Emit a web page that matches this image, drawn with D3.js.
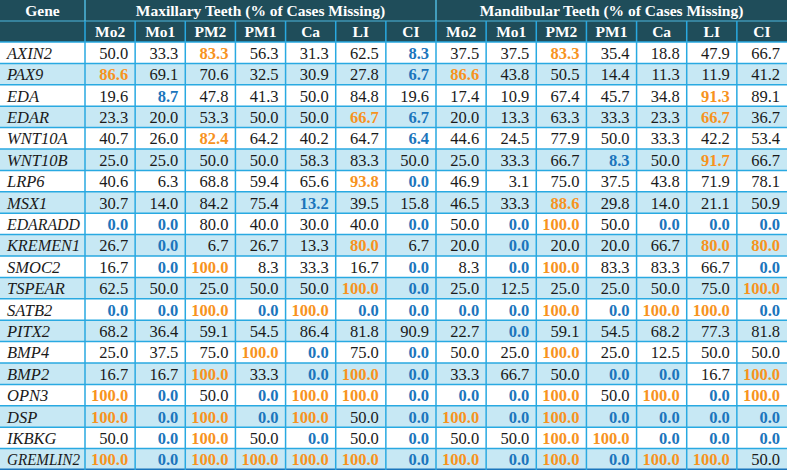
<!DOCTYPE html>
<html>
<head>
<meta charset="utf-8">
<script src="https://cdn.jsdelivr.net/npm/d3@7"></script>
<style>
  html, body { margin: 0; padding: 0; background: #fff; }
  svg { display: block; }
</style>
</head>
<body>
<script>
const genes = ["AXIN2", "PAX9", "EDA", "EDAR", "WNT10A", "WNT10B", "LRP6", "MSX1",
  "EDARADD", "KREMEN1", "SMOC2", "TSPEAR", "SATB2", "PITX2", "BMP4", "BMP2",
  "OPN3", "DSP", "IKBKG", "GREMLIN2"];

const teeth = ["Mo2", "Mo1", "PM2", "PM1", "Ca", "LI", "CI"];

const groups = ["Maxillary Teeth (% of Cases Missing)", "Mandibular Teeth (% of Cases Missing)"];

const maxillary = [
  [50.0, 33.3, 83.3, 56.3, 31.3, 62.5, 8.3],
  [86.6, 69.1, 70.6, 32.5, 30.9, 27.8, 6.7],
  [19.6, 8.7, 47.8, 41.3, 50.0, 84.8, 19.6],
  [23.3, 20.0, 53.3, 50.0, 50.0, 66.7, 6.7],
  [40.7, 26.0, 82.4, 64.2, 40.2, 64.7, 6.4],
  [25.0, 25.0, 50.0, 50.0, 58.3, 83.3, 50.0],
  [40.6, 6.3, 68.8, 59.4, 65.6, 93.8, 0.0],
  [30.7, 14.0, 84.2, 75.4, 13.2, 39.5, 15.8],
  [0.0, 0.0, 80.0, 40.0, 30.0, 40.0, 0.0],
  [26.7, 0.0, 6.7, 26.7, 13.3, 80.0, 6.7],
  [16.7, 0.0, 100.0, 8.3, 33.3, 16.7, 0.0],
  [62.5, 50.0, 25.0, 50.0, 50.0, 100.0, 0.0],
  [0.0, 0.0, 100.0, 0.0, 100.0, 0.0, 0.0],
  [68.2, 36.4, 59.1, 54.5, 86.4, 81.8, 90.9],
  [25.0, 37.5, 75.0, 100.0, 0.0, 75.0, 0.0],
  [16.7, 16.7, 100.0, 33.3, 0.0, 100.0, 0.0],
  [100.0, 0.0, 50.0, 0.0, 100.0, 100.0, 0.0],
  [100.0, 0.0, 100.0, 0.0, 100.0, 50.0, 0.0],
  [50.0, 0.0, 100.0, 50.0, 0.0, 50.0, 0.0],
  [100.0, 0.0, 100.0, 100.0, 100.0, 100.0, 0.0]
];

const mandibular = [
  [37.5, 37.5, 83.3, 35.4, 18.8, 47.9, 66.7],
  [86.6, 43.8, 50.5, 14.4, 11.3, 11.9, 41.2],
  [17.4, 10.9, 67.4, 45.7, 34.8, 91.3, 89.1],
  [20.0, 13.3, 63.3, 33.3, 23.3, 66.7, 36.7],
  [44.6, 24.5, 77.9, 50.0, 33.3, 42.2, 53.4],
  [25.0, 33.3, 66.7, 8.3, 50.0, 91.7, 66.7],
  [46.9, 3.1, 75.0, 37.5, 43.8, 71.9, 78.1],
  [46.5, 33.3, 88.6, 29.8, 14.0, 21.1, 50.9],
  [50.0, 0.0, 100.0, 50.0, 0.0, 0.0, 0.0],
  [20.0, 0.0, 20.0, 20.0, 66.7, 80.0, 80.0],
  [8.3, 0.0, 100.0, 83.3, 83.3, 66.7, 0.0],
  [25.0, 12.5, 25.0, 25.0, 50.0, 75.0, 100.0],
  [0.0, 0.0, 100.0, 0.0, 100.0, 100.0, 0.0],
  [22.7, 0.0, 59.1, 54.5, 68.2, 77.3, 81.8],
  [50.0, 25.0, 100.0, 25.0, 12.5, 50.0, 50.0],
  [33.3, 66.7, 50.0, 0.0, 0.0, 16.7, 100.0],
  [0.0, 0.0, 100.0, 50.0, 100.0, 0.0, 100.0],
  [100.0, 0.0, 100.0, 0.0, 0.0, 0.0, 0.0],
  [50.0, 50.0, 100.0, 100.0, 0.0, 0.0, 0.0],
  [100.0, 0.0, 100.0, 0.0, 100.0, 100.0, 50.0]
];

// H = highest (orange), L = lowest (blue), - = plain
const maxillaryMarks = [
  "--H---L", "H-----L", "-L-----", "-----HL", "--H---L", "-------", "-----HL",
  "----L--", "LL----L", "-L---H-", "-LH---L", "-----HL", "LLHLHLL", "-------",
  "---HL-L", "--H-LHL", "HL-LHHL", "HLHLH-L", "-LH-L-L", "HLHHHHL"
];
const mandibularMarks = [
  "--H----", "H------", "-----H-", "-----H-", "-------", "---L-H-", "-------",
  "--H----", "-LH-LLL", "-L---HH", "-LH---L", "------H", "LLHLHHL", "-L-----",
  "--H----", "---LL-H", "LLH-HLH", "HLHLLLL", "--HHLLL", "HLHLHH-"
];

// cells left white inside a shaded row
const plainCells = [{gene: "BMP2", group: 1, tooth: "LI"}];

const width = 787, height = 470;
const geneW = 85, headH = 21;
const serif = "'Liberation Serif', 'Times New Roman', Tinos, Times, serif";

const cols = [];
groups.forEach((g, gi) => teeth.forEach(t => cols.push(gi + ":" + t)));

const x = d3.scaleBand().domain(cols).range([geneW, width]);
const y = d3.scaleBand().domain(genes).range([headH * 2, height]);
const xGroup = d3.scaleBand().domain(groups).range([geneW, width]);

const markColor = {H: "#f7931e", L: "#1b75bc", "-": "#1a1a1a"};

const svg = d3.select("body").append("svg")
  .attr("width", width)
  .attr("height", height)
  .attr("font-family", serif)
  .style("font-family", serif);

// header background
svg.append("rect")
  .attr("x", 0).attr("y", 0)
  .attr("width", width).attr("height", headH * 2)
  .attr("fill", "#1f4d5a");

// row backgrounds
svg.append("g").selectAll("rect")
  .data(genes)
  .join("rect")
  .attr("x", 0)
  .attr("y", d => y(d))
  .attr("width", width)
  .attr("height", y.bandwidth())
  .attr("fill", (d, i) => i % 2 ? "#c7e8f4" : "#ffffff");

svg.append("g").selectAll("rect")
  .data(plainCells)
  .join("rect")
  .attr("x", d => x(d.group + ":" + d.tooth))
  .attr("y", d => y(d.gene))
  .attr("width", x.bandwidth())
  .attr("height", y.bandwidth())
  .attr("fill", "#ffffff");

// cells
const cells = [];
genes.forEach((g, i) => {
  teeth.forEach((t, j) => {
    cells.push({gene: g, col: "0:" + t, v: maxillary[i][j], m: maxillaryMarks[i][j]});
    cells.push({gene: g, col: "1:" + t, v: mandibular[i][j], m: mandibularMarks[i][j]});
  });
});

svg.append("g").selectAll("text")
  .data(cells)
  .join("text")
  .attr("x", d => x(d.col) + x.bandwidth() - 7)
  .attr("y", d => y(d.gene) + y.bandwidth() / 2 + 6)
  .attr("text-anchor", "end")
  .attr("font-size", 16.5)
  .attr("font-weight", d => d.m === "-" ? "normal" : "bold")
  .attr("fill", d => markColor[d.m])
  .text(d => d3.format(".1f")(d.v));

// gene names, long ones squeezed to fit the column
svg.append("g").selectAll("text")
  .data(genes)
  .join("text")
  .attr("x", 7)
  .attr("y", d => y(d) + y.bandwidth() / 2 + 6)
  .attr("font-size", 16.5)
  .attr("font-style", "italic")
  .attr("fill", "#1a1a1a")
  .text(d => d)
  .each(function () {
    if (this.getComputedTextLength() > 73) {
      d3.select(this).attr("textLength", 73).attr("lengthAdjust", "spacingAndGlyphs");
    }
  });

// header text
svg.append("text")
  .attr("x", geneW / 2)
  .attr("y", headH / 2 + 5.5)
  .attr("text-anchor", "middle")
  .attr("font-size", 15.5)
  .attr("font-weight", "bold")
  .attr("fill", "#fff")
  .text("Gene");

svg.append("g").selectAll("text")
  .data(groups)
  .join("text")
  .attr("x", d => xGroup(d) + xGroup.bandwidth() / 2)
  .attr("y", headH / 2 + 5.5)
  .attr("text-anchor", "middle")
  .attr("font-size", 15.5)
  .attr("font-weight", "bold")
  .attr("fill", "#fff")
  .text(d => d);

svg.append("g").selectAll("text")
  .data(cols)
  .join("text")
  .attr("x", d => x(d) + x.bandwidth() / 2)
  .attr("y", headH * 1.5 + 5.5)
  .attr("text-anchor", "middle")
  .attr("font-size", 15.5)
  .attr("font-weight", "bold")
  .attr("fill", "#fff")
  .text(d => d.split(":")[1]);

// grid
const grid = svg.append("g").attr("fill", "none");

grid.selectAll("line.h")
  .data(genes.slice(1))
  .join("line")
  .attr("class", "h")
  .attr("x1", 0).attr("x2", width)
  .attr("y1", d => y(d)).attr("y2", d => y(d))
  .attr("stroke", "#29a9e1")
  .attr("stroke-width", 1.5);

grid.append("line")
  .attr("x1", 0).attr("x2", width)
  .attr("y1", headH * 2).attr("y2", headH * 2)
  .attr("stroke", "#29a9e1")
  .attr("stroke-width", 1.5);

grid.append("line")
  .attr("x1", 0).attr("x2", width)
  .attr("y1", headH).attr("y2", headH)
  .attr("stroke", "#4fb8de")
  .attr("stroke-width", 1.2);

grid.append("line")
  .attr("x1", 0).attr("x2", width)
  .attr("y1", height - 0.75).attr("y2", height - 0.75)
  .attr("stroke", "#1b75bc")
  .attr("stroke-width", 1.5);

// vertical lines through body and second header row
grid.selectAll("line.v")
  .data(cols)
  .join("line")
  .attr("class", "v")
  .attr("x1", d => x(d)).attr("x2", d => x(d))
  .attr("y1", headH).attr("y2", height)
  .attr("stroke", "#29a9e1")
  .attr("stroke-width", 1.5);

// vertical lines in first header row
grid.selectAll("line.g")
  .data(groups)
  .join("line")
  .attr("class", "g")
  .attr("x1", d => xGroup(d)).attr("x2", d => xGroup(d))
  .attr("y1", 0).attr("y2", headH)
  .attr("stroke", "#4fb8de")
  .attr("stroke-width", 1.5);
</script>
</body>
</html>
